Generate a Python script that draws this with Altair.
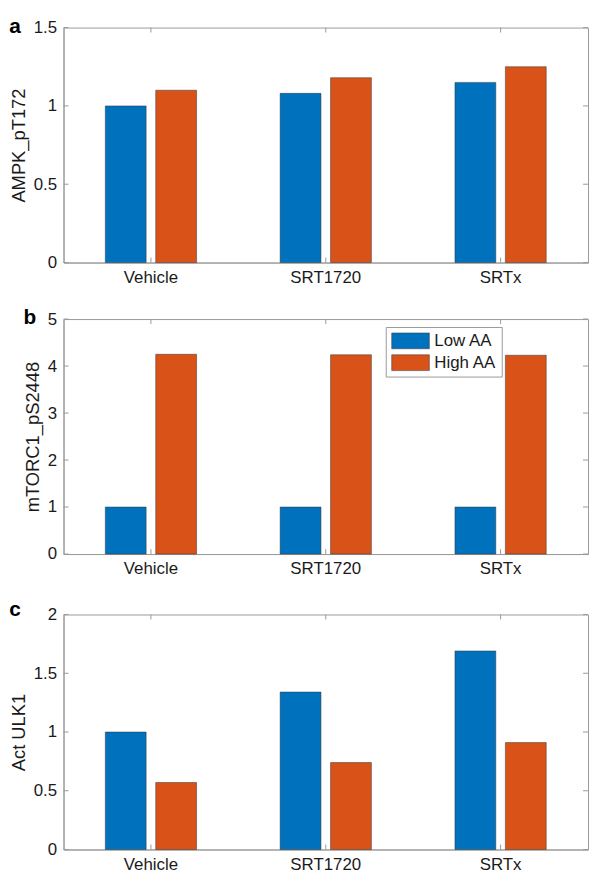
import altair as alt
import pandas as pd

groups = ["Vehicle", "SRT1720", "SRTx"]
conditions = ["Low AA", "High AA"]
colors = ["#0072BD", "#D95319"]

ampk_low = [1.00, 1.08, 1.15]
ampk_high = [1.10, 1.18, 1.25]
mtor_low = [1.00, 1.00, 1.00]
mtor_high = [4.25, 4.24, 4.23]
ulk_low = [1.00, 1.34, 1.69]
ulk_high = [0.57, 0.74, 0.91]

ampk_ticks = [0, 0.5, 1, 1.5]
mtor_ticks = [0, 1, 2, 3, 4, 5]
ulk_ticks = [0, 0.5, 1, 1.5, 2]

W, H = 529, 237
FONT = "Liberation Sans"
BOX = "#9a9a9a"
TXT = "#1a1a1a"


def panel(low, high, ytitle, ticks, letter, legend=False, toff=-18):
    df = pd.DataFrame({
        "group": groups * 2,
        "cond": [conditions[0]] * 3 + [conditions[1]] * 3,
        "value": low + high,
    })
    tdf = pd.DataFrame({"value": ticks})
    gdf = pd.DataFrame({"group": groups})
    xscale = alt.Scale(domain=groups, paddingInner=0.478, paddingOuter=0.239)
    yscale = alt.Scale(domain=[ticks[0], ticks[-1]], nice=False)
    color_kwargs = dict(scale=alt.Scale(domain=conditions, range=colors), sort=conditions)
    if legend:
        leg = alt.Legend(
            title=None, orient="none", legendX=325, legendY=8,
            symbolType="M-2.235,-0.94L2.235,-0.94L2.235,0.94L-2.235,0.94Z", symbolSize=289,
            symbolStrokeColor="#333333", symbolStrokeWidth=0.5, symbolOpacity=1,
            symbolOffset=11,
            labelFontSize=17, labelFont=FONT, labelColor=TXT,
            strokeColor=BOX, fillColor="white", padding=5, rowPadding=4,
            labelOffset=15,
        )
        color = alt.Color("cond:N", legend=leg, **color_kwargs)
    else:
        color = alt.Color("cond:N", legend=None, **color_kwargs)

    bars = alt.Chart(df).mark_bar(stroke="#333333", strokeWidth=0.5).encode(
        x=alt.X("group:N", sort=groups, scale=xscale,
                axis=alt.Axis(title=None, labelAngle=0, labelPadding=7, ticks=False)),
        xOffset=alt.XOffset("cond:N", sort=conditions,
                            scale=alt.Scale(domain=conditions, paddingInner=0.19, paddingOuter=0)),
        y=alt.Y("value:Q", scale=yscale,
                axis=alt.Axis(title=ytitle, values=ticks, format="~g", labelPadding=7,
                              ticks=False, titlePadding=5)),
        color=color,
    )
    yl = alt.Chart(tdf).mark_rule(color=BOX, strokeWidth=1).encode(
        y=alt.Y("value:Q", scale=yscale), x=alt.value(0), x2=alt.value(5))
    yr = alt.Chart(tdf).mark_rule(color=BOX, strokeWidth=1).encode(
        y=alt.Y("value:Q", scale=yscale), x=alt.value(W - 5), x2=alt.value(W))
    xb = alt.Chart(gdf).mark_rule(color=BOX, strokeWidth=1).encode(
        x=alt.X("group:N", sort=groups, scale=xscale),
        y=alt.value(H), y2=alt.value(H - 5))
    xt = alt.Chart(gdf).mark_rule(color=BOX, strokeWidth=1).encode(
        x=alt.X("group:N", sort=groups, scale=xscale),
        y=alt.value(0), y2=alt.value(5))
    return alt.layer(bars, yl, yr, xb, xt).properties(
        width=W, height=H,
        title=alt.TitleParams(text=letter, anchor="start", frame="bounds", fontSize=21,
                              fontWeight="bold", font=FONT, color="black", offset=toff),
    )


chart = alt.vconcat(
    panel(ampk_low, ampk_high, "AMPK_pT172", ampk_ticks, "a"),
    panel(mtor_low, mtor_high, "mTORC1_pS2448", mtor_ticks, "b", legend=True),
    panel(ulk_low, ulk_high, "Act ULK1", ulk_ticks, "c", toff=-14),
    spacing=20,
).resolve_legend(
    color="independent"
).configure_view(
    stroke=BOX, strokeWidth=1
).configure_axis(
    grid=False, domainColor=BOX, domainWidth=1,
    labelFont=FONT, labelFontSize=17, labelColor=TXT,
    titleFont=FONT, titleFontSize=18.5, titleFontWeight="normal", titleColor=TXT,
).properties(padding={"top": 3, "left": 0, "right": 0, "bottom": 0})

chart.save("out.html", embed_options={"renderer": "svg", "actions": False})
